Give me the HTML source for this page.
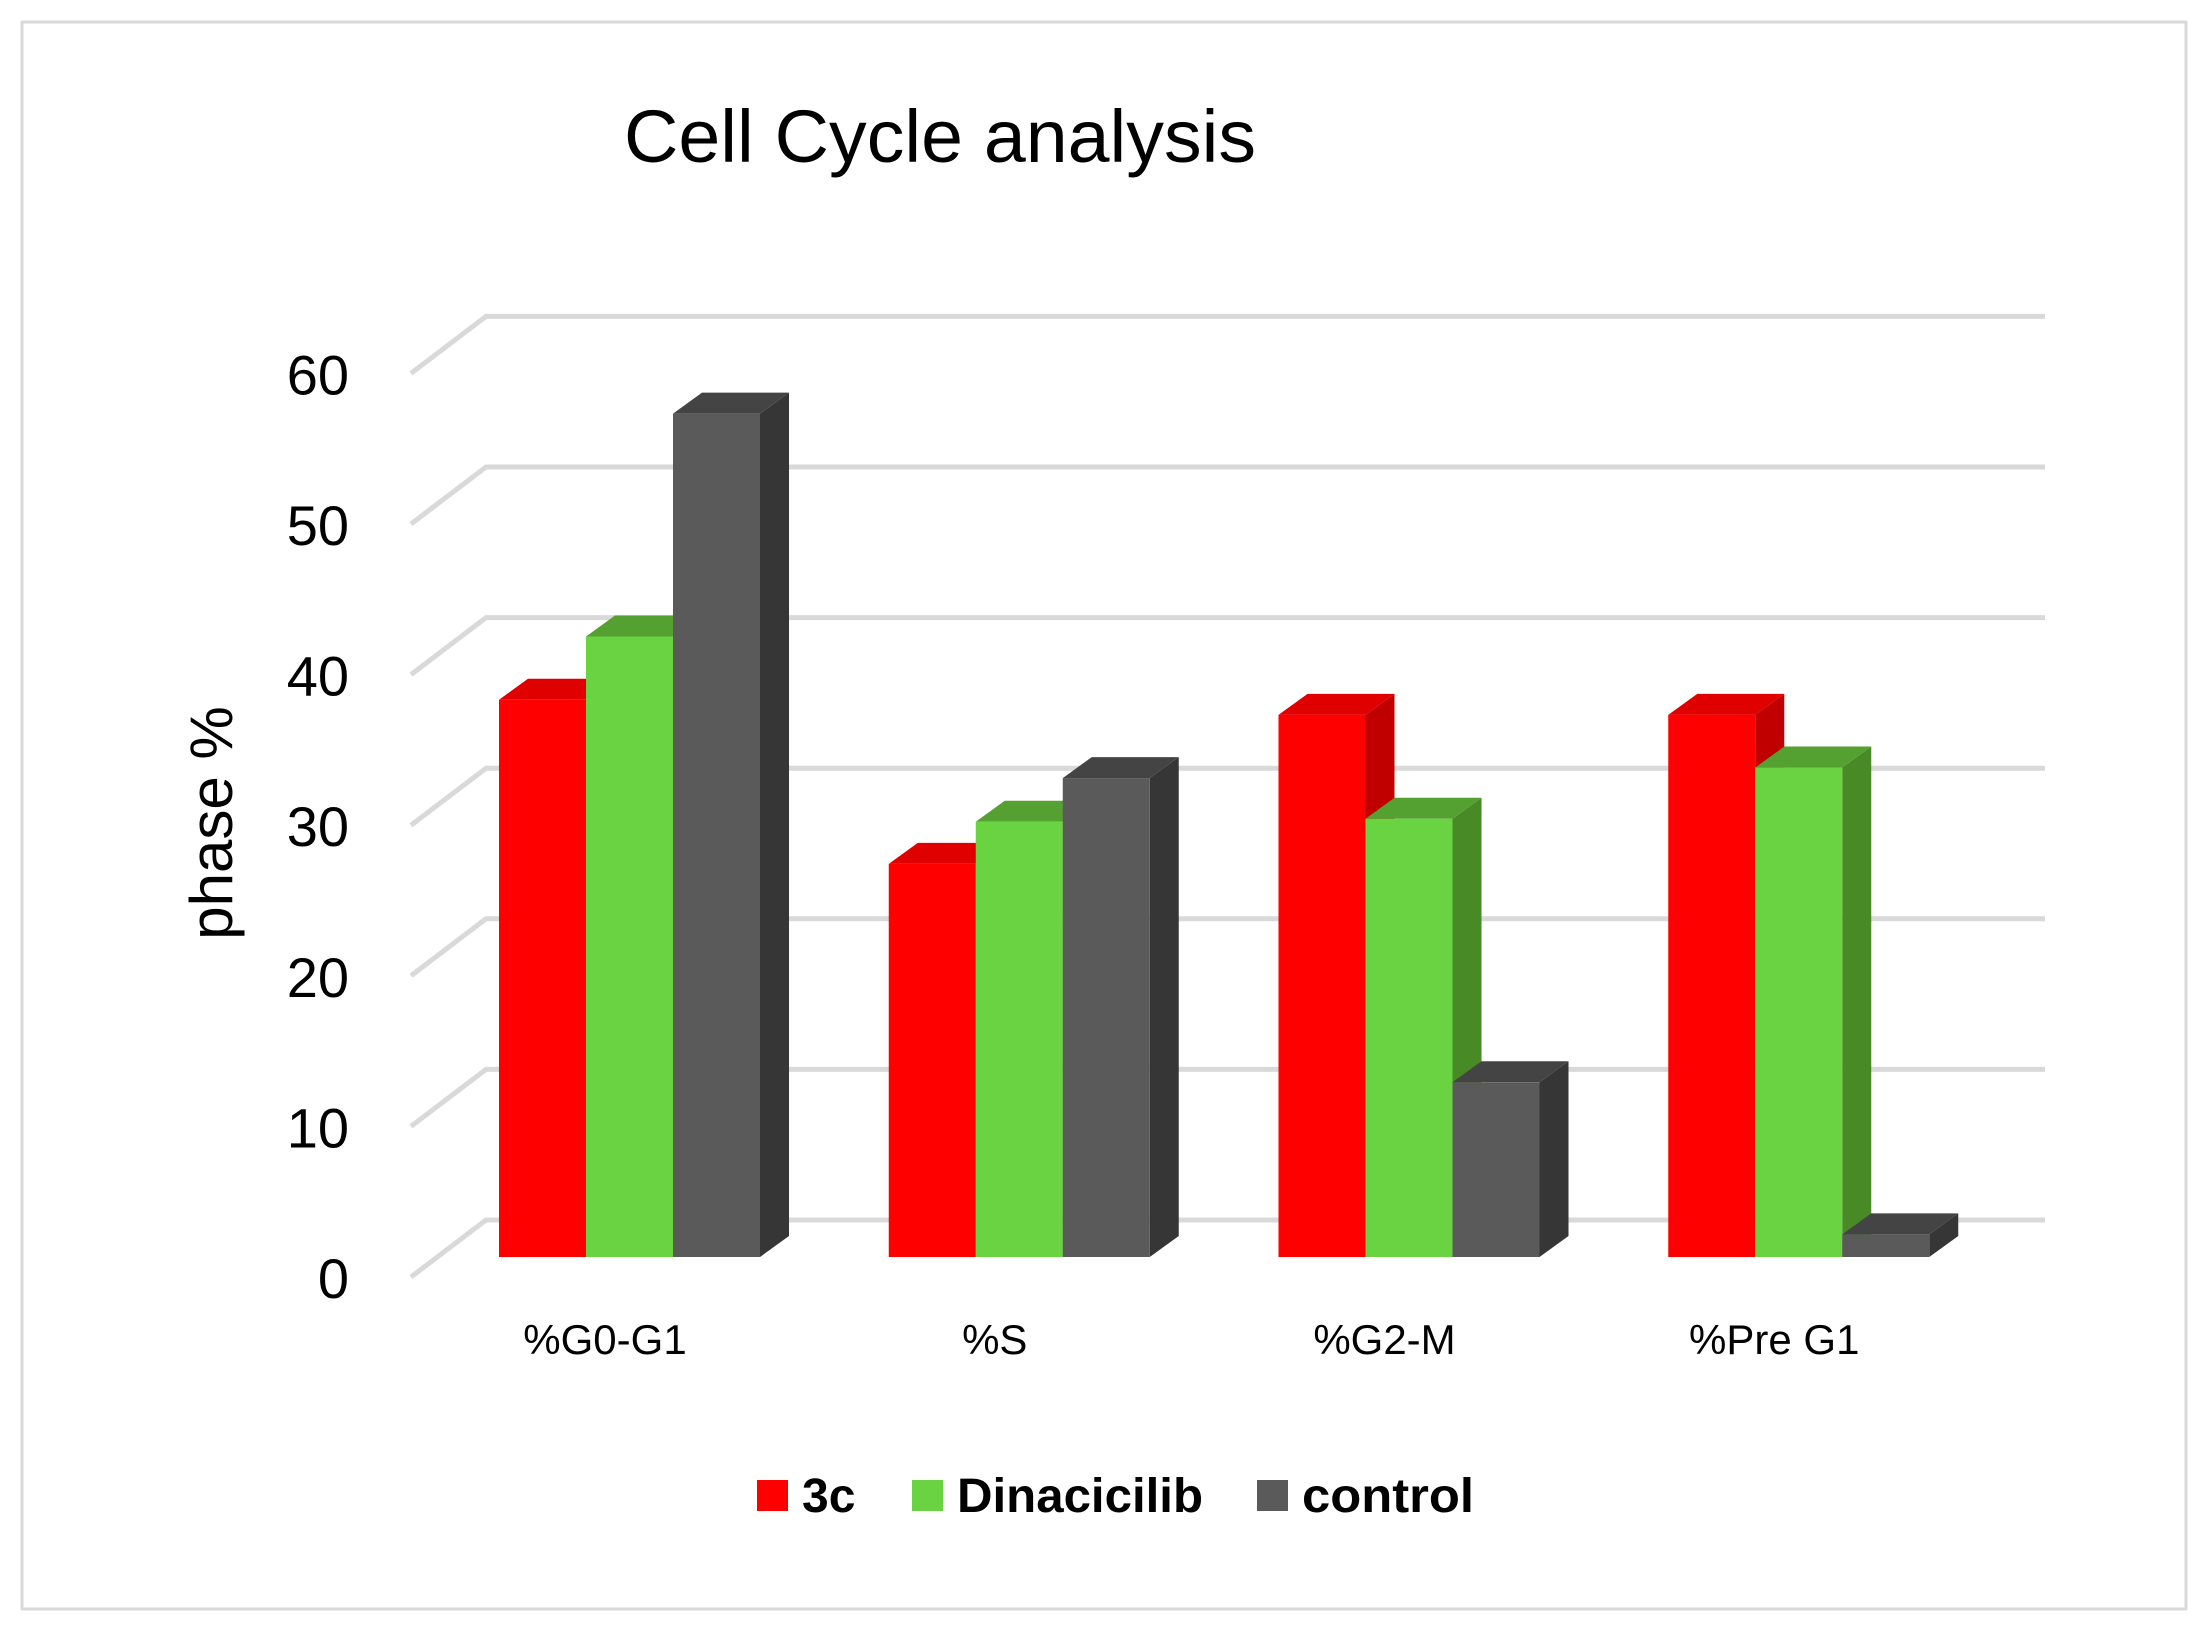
<!DOCTYPE html>
<html><head><meta charset="utf-8">
<style>
html,body{margin:0;padding:0;background:#fff;}
svg{display:block;}
text{font-family:"Liberation Sans",sans-serif;}
</style></head>
<body>
<svg id="chart" width="2207" height="1633" viewBox="0 0 2207 1633" xmlns="http://www.w3.org/2000/svg">
<rect x="22" y="22" width="2164" height="1587" fill="#fff" stroke="#d9d9d9" stroke-width="3"/>
<text x="940" y="162" font-size="74" text-anchor="middle" fill="#000" textLength="632" lengthAdjust="spacingAndGlyphs">Cell Cycle analysis</text>
<text transform="translate(232,823) rotate(-90)" font-size="60" text-anchor="middle" fill="#000">phase %</text>
<g id="grid"></g>
<g id="yticks"></g>
<g id="bars"></g>
<g id="xlabels"></g>
<g>
  <rect x="757" y="1480" width="31" height="31" fill="#ff0000"/>
  <text x="802" y="1512" font-size="48" font-weight="bold" fill="#000">3c</text>
  <rect x="912" y="1480" width="31" height="31" fill="#6ad341"/>
  <text x="957" y="1512" font-size="48" font-weight="bold" fill="#000" textLength="246" lengthAdjust="spacingAndGlyphs">Dinacicilib</text>
  <rect x="1257" y="1480" width="31" height="31" fill="#5a5a5a"/>
  <text x="1302" y="1512" font-size="48" font-weight="bold" fill="#000" textLength="172" lengthAdjust="spacingAndGlyphs">control</text>
</g>
</svg>
<script>
const categories = ["%G0-G1", "%S", "%G2-M", "%Pre G1"];
const values3c = [37.0, 26.1, 36.0, 36.0];
const valuesDinacicilib = [41.2, 28.9, 29.1, 32.5];
const valuesControl = [56.0, 31.8, 11.6, 1.5];
const yTicks = [0, 10, 20, 30, 40, 50, 60];

const NS = "http://www.w3.org/2000/svg";
const backLeft = 486, backRight = 2045, backZero = 1220, unit = 15.06;
const slantDx = -75, slantDy = 57;
const catW = (backRight - backLeft) / categories.length;
const barW = 87, depthDx = 29, depthDy = -21, barBase = 1257;
const yBack = v => backZero - v * unit;
const yFront = v => barBase - v * unit;
const xCat = i => backLeft + 13 + i * catW;

function mk(tag, attrs, parent) {
  const e = document.createElementNS(NS, tag);
  for (const k in attrs) e.setAttribute(k, attrs[k]);
  parent.appendChild(e);
  return e;
}
const grid = document.getElementById('grid');
const yt = document.getElementById('yticks');
yTicks.forEach(v => {
  const y = yBack(v);
  const p = mk('polyline', {points: `${backLeft + slantDx},${y + slantDy} ${backLeft},${y} ${backRight},${y}`, fill: 'none', stroke: '#d9d9d9', 'stroke-width': 5}, grid);
  
  
  const t = mk('text', {x: 349, y: y + slantDy + 21, 'font-size': 56, 'text-anchor': 'end', fill: '#000'}, yt);
  t.textContent = v;
  
  
});

const series = [
  {name: '3c', vals: values3c, front: '#ff0000', top: '#e00000', side: '#c00000'},
  {name: 'dinacicilib', vals: valuesDinacicilib, front: '#6ad341', top: '#54a030', side: '#488a26'},
  {name: 'control', vals: valuesControl, front: '#5a5a5a', top: '#444444', side: '#363636'}
];
const bars = document.getElementById('bars');
const xl = document.getElementById('xlabels');
categories.forEach((c, i) => {
  series.forEach((s, j) => {
    const x0 = xCat(i) + j * barW, x1 = x0 + barW;
    const yt0 = yFront(s.vals[i]);
    const g = mk('g', {}, bars);
    
    
    mk('polygon', {points: `${x1},${yt0} ${x1 + depthDx},${yt0 + depthDy} ${x1 + depthDx},${barBase + depthDy} ${x1},${barBase}`, fill: s.side}, g);
    mk('polygon', {points: `${x0},${yt0} ${x0 + depthDx},${yt0 + depthDy} ${x1 + depthDx},${yt0 + depthDy} ${x1},${yt0}`, fill: s.top}, g);
    mk('rect', {x: x0, y: yt0, width: barW, height: barBase - yt0, fill: s.front}, g);
  });
  const t = mk('text', {x: xCat(i) + 106, y: 1354, 'font-size': 42, 'text-anchor': 'middle', fill: '#000'}, xl);
  t.textContent = c;
  
  
});
</script>
</body></html>
